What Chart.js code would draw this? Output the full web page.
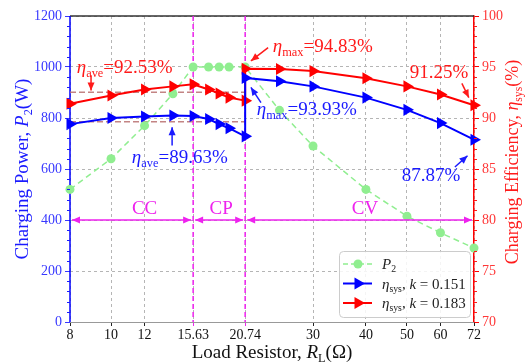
<!DOCTYPE html>
<html>
<head>
<meta charset="utf-8">
<script src="https://cdn.jsdelivr.net/npm/chart.js@4.4.0/dist/chart.umd.min.js"></script>
<style>
  html, body { margin: 0; padding: 0; background: #fff; }
</style>
</head>
<body>
<canvas id="c" width="525" height="363"></canvas>
<script>
// load resistor values (ohm) and charging power P2 (W)
const resistors = [8, 10, 12, 14, 15.63, 17, 18, 19, 20.74, 25, 30, 40, 50, 60, 72];
const power = [520, 640, 770, 895, 1000, 1000, 1000, 1000, 1000, 830, 690, 520, 415, 350, 290];
// efficiency: two values at 20.74 (CP -> CV switch)
const effX = [8, 10, 12, 14, 15.63, 17, 18, 19, 20.74, 20.74, 25, 30, 40, 50, 60, 72];
const effK151 = [89.4, 90.0, 90.15, 90.25, 90.2, 89.9, 89.4, 89.0, 88.2, 93.93, 93.6, 93.1, 92.0, 90.8, 89.5, 87.87];
const effK183 = [91.4, 92.2, 92.8, 93.1, 93.3, 92.8, 92.4, 92.0, 91.7, 94.83, 94.8, 94.6, 93.9, 93.1, 92.3, 91.25];
const xTicks = [8, 10, 12, 15.63, 20.74, 30, 40, 50, 60, 72];
const modeBounds = [8, 15.63, 20.74, 72];
const modeNames = ['CC', 'CP', 'CV'];
const avgK183 = 92.53;
const avgK151 = 89.63;

const SERIF = '"Liberation Serif", "DejaVu Serif", serif';
const RED = '#ff1a1a', BLUE = '#1a1aff', MAG = '#ee22ee', GREEN = '#90ee90';

function fnt(sz, it) { return (it ? 'italic ' : '') + sz + 'px ' + SERIF; }

function richWidth(ctx, parts, sz) {
  let w = 0;
  for (const p of parts) {
    ctx.font = fnt(p.sub ? sz * 0.65 : sz, p.it);
    w += ctx.measureText(p.t).width;
  }
  return w;
}

function drawRich(ctx, parts, x, y, sz, color, align) {
  const w = richWidth(ctx, parts, sz);
  let cx = align === 'center' ? x - w / 2 : x;
  ctx.fillStyle = color;
  ctx.textBaseline = 'alphabetic';
  ctx.textAlign = 'left';
  for (const p of parts) {
    const s = p.sub ? sz * 0.65 : sz;
    ctx.font = fnt(s, p.it);
    ctx.fillText(p.t, cx, p.sub ? y + sz * 0.2 : y);
    cx += ctx.measureText(p.t).width;
  }
}

function head(ctx, x, y, ang) {
  const L = 8, W = 3.5;
  const c = Math.cos(ang), s = Math.sin(ang);
  ctx.beginPath();
  ctx.moveTo(x, y);
  ctx.lineTo(x - L * c + W * s, y - L * s - W * c);
  ctx.lineTo(x - L * c - W * s, y - L * s + W * c);
  ctx.closePath();
  ctx.fill();
}

function arrow(ctx, x1, y1, x2, y2, color, both) {
  ctx.save();
  ctx.strokeStyle = color;
  ctx.fillStyle = color;
  ctx.lineWidth = 1.5;
  ctx.setLineDash([]);
  ctx.beginPath();
  ctx.moveTo(x1, y1);
  ctx.lineTo(x2, y2);
  ctx.stroke();
  const ang = Math.atan2(y2 - y1, x2 - x1);
  head(ctx, x2, y2, ang);
  if (both) head(ctx, x1, y1, ang + Math.PI);
  ctx.restore();
}

// annotation texts placed in data coords (x in ohm, y on efficiency axis)
const eta = (sub, rest) => [{ t: 'η', it: 1 }, { t: sub, sub: 1 }, { t: rest }];
const notes = [
  { parts: eta('ave', '=92.53%'), x: 8.3, y: 94.4, color: RED, arr: [8.97, 94.2, 8.97, 92.7] },
  { parts: eta('ave', '=89.63%'), x: 11.2, y: 85.6, color: BLUE, arr: [13.94, 87.3, 13.94, 89.1] },
  { parts: eta('max', '=94.83%'), x: 24.1, y: 96.5, color: RED, arr: [23.5, 96.9, 21.4, 95.6] },
  { parts: eta('max', '=93.93%'), x: 22.1, y: 90.3, color: BLUE, arr: [22.6, 91.5, 21.4, 93.0] },
  { parts: [{ t: '91.25%' }], x: 50.8, y: 93.9, color: RED, arr: [67.4, 93.4, 70.0, 92.0] },
  { parts: [{ t: '87.87%' }], x: 48.6, y: 83.8, color: BLUE, arr: [64.9, 85.2, 69.5, 86.3] }
];

const decorPlugin = {
  id: 'decor',
  beforeDatasetsDraw(chart) {
    const { ctx, chartArea: a, scales } = chart;
    const x = scales.x, y2 = scales.y2;
    ctx.save();
    // spines
    ctx.lineWidth = 1.5;
    ctx.strokeStyle = '#333';
    ctx.beginPath(); ctx.moveTo(a.left, a.top); ctx.lineTo(a.right, a.top); ctx.stroke();
    ctx.lineWidth = 1;
    ctx.strokeStyle = '#999';
    ctx.beginPath(); ctx.moveTo(a.left, a.bottom + 0.5); ctx.lineTo(a.right, a.bottom + 0.5); ctx.stroke();
    ctx.lineWidth = 1.5;
    ctx.strokeStyle = 'blue';
    ctx.beginPath(); ctx.moveTo(a.left, a.top); ctx.lineTo(a.left, a.bottom); ctx.stroke();
    // mode boundaries
    ctx.strokeStyle = MAG;
    ctx.lineWidth = 1.5;
    ctx.setLineDash([5, 3]);
    for (const b of [modeBounds[1], modeBounds[2]]) {
      const px = x.getPixelForValue(b);
      ctx.beginPath();
      ctx.moveTo(px, a.top);
      ctx.lineTo(px, a.bottom);
      ctx.stroke();
    }
    // average efficiency lines
    ctx.strokeStyle = 'rgba(185,110,110,0.85)';
    ctx.setLineDash([6, 3]);
    for (const v of [avgK183, avgK151]) {
      const py = y2.getPixelForValue(v);
      ctx.beginPath();
      ctx.moveTo(a.left, py);
      ctx.lineTo(x.getPixelForValue(modeBounds[2]), py);
      ctx.stroke();
    }
    ctx.restore();
  },
  afterDatasetsDraw(chart) {
    const { ctx, chartArea: a, scales } = chart;
    const x = scales.x, y = scales.y, y2 = scales.y2;
    ctx.save();
    // minor ticks
    ctx.lineWidth = 1;
    ctx.strokeStyle = BLUE;
    for (let v = 40; v < 1200; v += 40) {
      if (v % 200 === 0) continue;
      const py = Math.round(y.getPixelForValue(v)) + 0.5;
      ctx.beginPath(); ctx.moveTo(a.left - 3, py); ctx.lineTo(a.left, py); ctx.stroke();
    }
    ctx.strokeStyle = RED;
    for (let v = 71; v < 100; v++) {
      if (v % 5 === 0) continue;
      const py = Math.round(y2.getPixelForValue(v)) + 0.5;
      ctx.beginPath(); ctx.moveTo(a.right, py); ctx.lineTo(a.right + 3, py); ctx.stroke();
    }
    // operating mode arrows
    const ay = y.getPixelForValue(400);
    const ty = y.getPixelForValue(425);
    const labelAt = [12, 18.2, 39.8];
    for (let i = 0; i < 3; i++) {
      const l = x.getPixelForValue(modeBounds[i]) + 2;
      const r = x.getPixelForValue(modeBounds[i + 1]) - 2;
      arrow(ctx, l, ay, r, ay, MAG, true);
      drawRich(ctx, [{ t: modeNames[i] }], x.getPixelForValue(labelAt[i]), ty, 19, MAG, 'center');
    }
    // annotations
    for (const n of notes) {
      drawRich(ctx, n.parts, x.getPixelForValue(n.x), y2.getPixelForValue(n.y), 19, n.color, 'left');
      const [ax1, ay1, ax2, ay2] = n.arr;
      arrow(ctx, x.getPixelForValue(ax1), y2.getPixelForValue(ay1), x.getPixelForValue(ax2), y2.getPixelForValue(ay2), n.color, false);
    }
    // legend
    const lx = a.right - 135, ly = a.bottom - 71, lw = 131, lh = 66;
    ctx.fillStyle = 'rgba(255,255,255,0.85)';
    ctx.strokeStyle = '#cccccc';
    ctx.lineWidth = 1;
    ctx.beginPath();
    ctx.roundRect(lx + 0.5, ly + 0.5, lw, lh, 4);
    ctx.fill();
    ctx.stroke();
    const rows = [
      { color: GREEN, dash: [5, 3], pt: 'circle', parts: [{ t: 'P', it: 1 }, { t: '2', sub: 1 }] },
      { color: 'blue', dash: [], pt: 'tri', parts: [{ t: 'η', it: 1 }, { t: 'sys', sub: 1 }, { t: ', ' }, { t: 'k', it: 1 }, { t: ' = 0.151' }] },
      { color: 'red', dash: [], pt: 'tri', parts: [{ t: 'η', it: 1 }, { t: 'sys', sub: 1 }, { t: ', ' }, { t: 'k', it: 1 }, { t: ' = 0.183' }] }
    ];
    rows.forEach((r, i) => {
      const ry = ly + 13 + i * 19.5;
      ctx.strokeStyle = r.color;
      ctx.fillStyle = r.color;
      ctx.lineWidth = r.pt === 'circle' ? 1.5 : 2;
      ctx.setLineDash(r.dash);
      ctx.beginPath(); ctx.moveTo(lx + 4, ry); ctx.lineTo(lx + 33, ry); ctx.stroke();
      ctx.setLineDash([]);
      const cx = lx + 19;
      ctx.beginPath();
      if (r.pt === 'circle') {
        ctx.arc(cx, ry, 4.5, 0, Math.PI * 2);
      } else {
        ctx.moveTo(cx + 7, ry); ctx.lineTo(cx - 3.5, ry - 6); ctx.lineTo(cx - 3.5, ry + 6); ctx.closePath();
      }
      ctx.fill();
      drawRich(ctx, r.parts, lx + 43, ry + 5, 15, '#222', 'left');
    });
    // axis titles
    ctx.save();
    ctx.translate(28, (a.top + a.bottom) / 2);
    ctx.rotate(-Math.PI / 2);
    drawRich(ctx, [{ t: 'Charging Power, ' }, { t: 'P', it: 1 }, { t: '2', sub: 1 }, { t: '(W)' }], 0, 0, 19, BLUE, 'center');
    ctx.restore();
    ctx.save();
    ctx.translate(518, 162);
    ctx.rotate(-Math.PI / 2);
    drawRich(ctx, [{ t: 'Charging Efficiency, ' }, { t: 'η', it: 1 }, { t: 'sys', sub: 1 }, { t: '(%)' }], 0, 0, 18, RED, 'center');
    ctx.restore();
    drawRich(ctx, [{ t: 'Load Resistor, ' }, { t: 'R', it: 1 }, { t: 'L', sub: 1 }, { t: '(Ω)' }], (a.left + a.right) / 2, 358, 19, '#111', 'center');
    ctx.restore();
  }
};

const pts = (xs, ys) => xs.map((v, i) => ({ x: v, y: ys[i] }));

new Chart(document.getElementById('c'), {
  type: 'line',
  data: {
    datasets: [
      {
        label: 'eta_sys k=0.151',
        data: pts(effX, effK151),
        yAxisID: 'y2',
        borderColor: 'blue',
        backgroundColor: 'blue',
        borderWidth: 2,
        pointStyle: 'triangle',
        rotation: 90,
        pointRadius: 7,
        pointBorderWidth: 0,
        tension: 0,
        clip: 10,
        order: 1
      },
      {
        label: 'eta_sys k=0.183',
        data: pts(effX, effK183),
        yAxisID: 'y2',
        borderColor: 'red',
        backgroundColor: 'red',
        borderWidth: 2,
        pointStyle: 'triangle',
        rotation: 90,
        pointRadius: 7,
        pointBorderWidth: 0,
        tension: 0,
        clip: 10,
        order: 2
      },
      {
        label: 'P2',
        data: pts(resistors, power),
        yAxisID: 'y',
        borderColor: GREEN,
        backgroundColor: GREEN,
        borderWidth: 1.5,
        borderDash: [6, 4],
        pointRadius: 4.5,
        pointBorderWidth: 0,
        tension: 0,
        clip: 10,
        order: 3
      }
    ]
  },
  options: {
    responsive: false,
    animation: false,
    layout: { padding: { top: 16, left: 0, right: 0, bottom: 0 } },
    plugins: { legend: { display: false }, tooltip: { enabled: false } },
    scales: {
      x: {
        type: 'logarithmic',
        min: 8,
        max: 72,
        afterBuildTicks: s => { s.ticks = xTicks.map(v => ({ value: v })); },
        afterFit: s => { s.height = 41; },
        ticks: {
          callback: v => String(v),
          color: '#111',
          font: { family: SERIF, size: 14 },
          padding: 1,
          maxRotation: 0,
          autoSkip: false
        },
        grid: {
          color: '#b5b5b5',
          tickColor: c => (c.tick && (c.tick.value === 15.63 || c.tick.value === 20.74)) ? MAG : '#222',
          tickLength: 4
        },
        border: { display: false, dash: [3, 3] }
      },
      y: {
        position: 'left',
        min: 0,
        max: 1200,
        ticks: { stepSize: 200, callback: v => String(v), color: '#3838ff', font: { family: SERIF, size: 14 }, padding: 3 },
        grid: { color: '#b5b5b5', tickColor: '#3838ff', tickLength: 5 },
        border: { display: false, dash: [3, 3] },
        afterFit: s => { s.width = 70; }
      },
      y2: {
        position: 'right',
        min: 70,
        max: 100,
        ticks: { stepSize: 5, color: '#ff3838', font: { family: SERIF, size: 14 }, padding: 3 },
        grid: { drawOnChartArea: false, tickColor: 'red', tickLength: 5 },
        border: { color: 'red', width: 1.5 },
        afterFit: s => { s.width = 51; }
      }
    }
  },
  plugins: [decorPlugin]
});
</script>
</body>
</html>
